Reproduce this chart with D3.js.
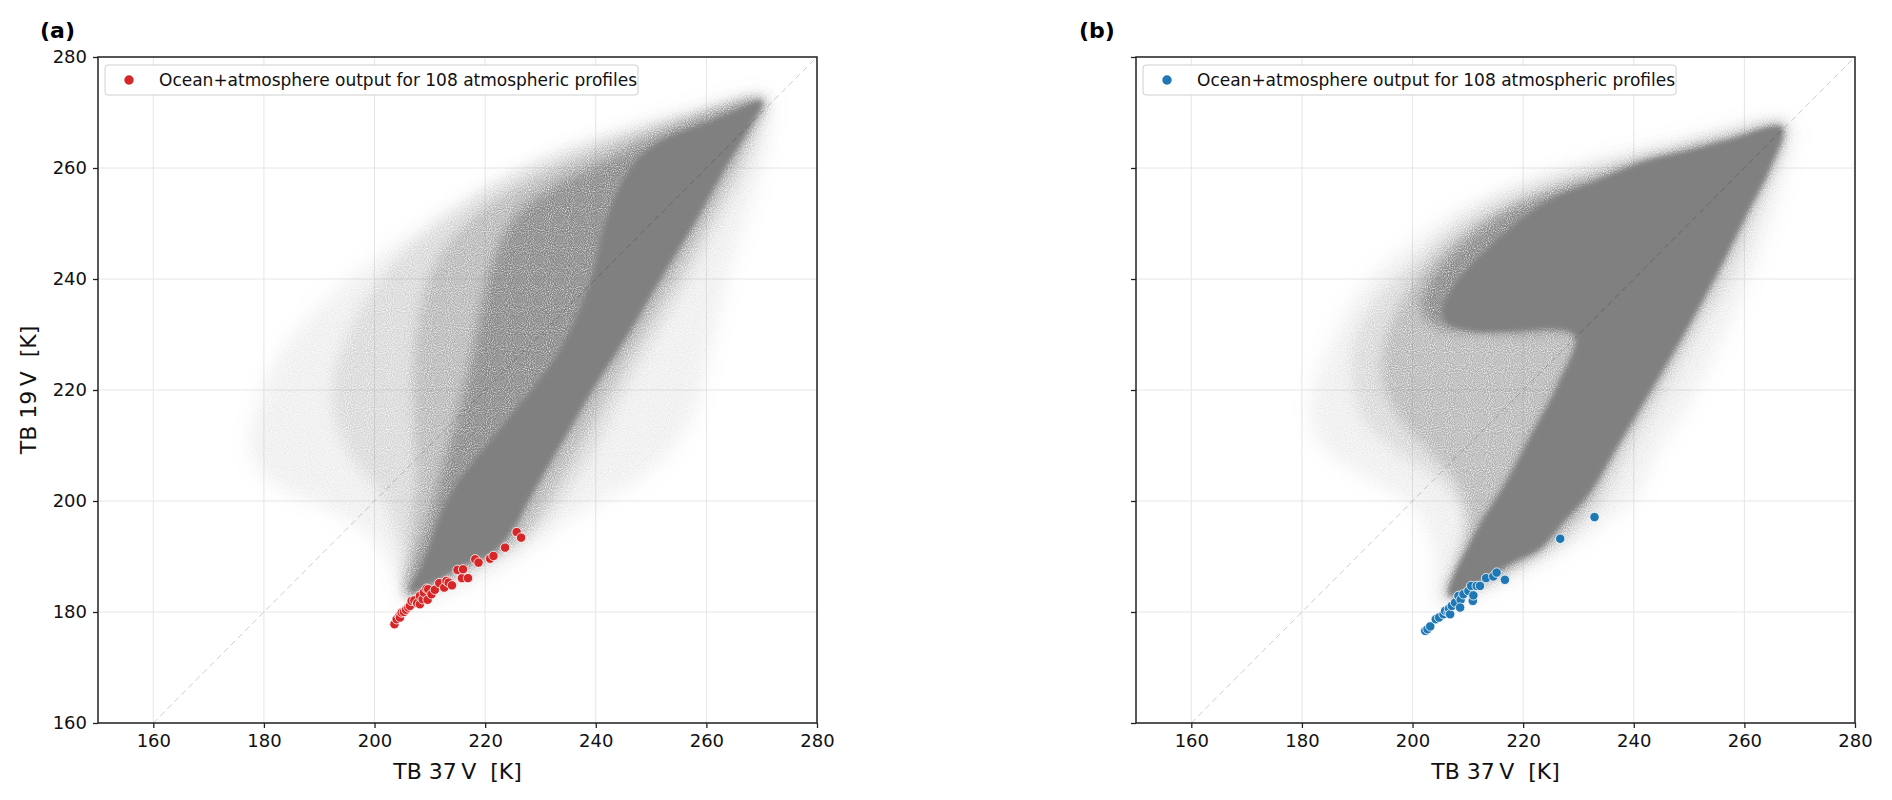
<!DOCTYPE html>
<html>
<head>
<meta charset="utf-8">
<script src="https://cdn.jsdelivr.net/npm/d3@7"></script>
<style>
  body { margin: 0; background: #fff; }
  text { font-family: "DejaVu Sans", sans-serif; }
</style>
</head>
<body>
<div id="chart"></div>
<script>
// ticks
var xTicks = [160, 180, 200, 220, 240, 260, 280];
var yTicks = [160, 180, 200, 220, 240, 260, 280];
var diag = [160, 280];
var legendText = "Ocean+atmosphere output for 108 atmospheric profiles";

// (a) model output, TB37V / TB19V
var redX = [203.6, 204.0, 204.5, 204.6, 204.9, 205.3, 205.7, 206.1, 206.4, 206.7, 207.2, 207.7, 208.2, 208.2, 208.7,
            208.9, 209.4, 209.6, 209.7, 210.3, 210.9, 211.7, 212.6, 213.0, 213.4, 214.0, 215.0, 215.8, 216.0, 216.9,
            218.2, 218.8, 220.9, 221.5, 223.6, 225.7, 226.5];
var redY = [177.8, 178.7, 179.3, 179.0, 179.9, 180.0, 180.4, 180.8, 181.1, 182.0, 182.1, 181.6, 182.9, 181.4, 182.3,
            183.5, 184.2, 182.2, 184.1, 183.2, 184.0, 185.2, 184.4, 185.6, 185.3, 184.8, 187.6, 186.1, 187.7, 186.1,
            189.5, 188.9, 189.6, 190.1, 191.6, 194.4, 193.4];

// (b) model output
var blueX = [202.3, 202.7, 203.2, 204.2, 204.8, 205.6, 205.9, 206.5, 206.6, 206.8, 207.1, 207.7, 208.3, 208.7, 208.6,
             209.2, 210.1, 210.6, 210.9, 211.0, 211.6, 212.2, 213.3, 214.6, 215.2, 216.7, 226.7, 232.9];
var blueY = [176.6, 176.9, 177.4, 178.7, 179.0, 179.6, 180.2, 179.9, 180.6, 179.6, 181.1, 181.7, 182.9, 182.2, 180.8,
             183.2, 183.8, 184.7, 182.0, 183.0, 184.7, 184.7, 186.1, 186.4, 187.1, 185.8, 193.2, 197.1];

var cloudAFaint = [[271.0,273.0],[258.0,271.0],[245.5,267.0],[233.0,262.0],[220.6,256.5],[208.1,249.0],[196.5,241.0],
  [188.0,233.0],[182.0,225.0],[178.5,216.3],[177.5,208.6],[181.6,203.2],[191.5,198.6],[199.8,193.2],[204.5,185.0],
  [206.0,181.5],[214.0,183.5],[222.0,187.5],[229.0,192.0],[235.0,196.5],[241.0,200.0],[248.0,204.0],[253.5,209.0],
  [257.5,215.0],[260.0,224.0],[263.7,239.4],[267.9,253.2],[271.4,266.3]];
var cloudALight = [[270.6,272.6],[261.4,270.5],[248.5,267.5],[235.6,263.9],[222.7,257.9],[213.7,251.9],[205.5,245.0],
  [199.5,238.0],[195.0,230.0],[192.5,222.0],[193.0,214.0],[196.5,207.0],[201.5,200.5],[204.8,191.0],[206.0,182.5],
  [212.0,184.6],[220.0,189.0],[226.5,192.5],[230.5,196.0],[233.7,200.0],[239.5,208.5],[245.3,220.0],[251.0,230.0],
  [256.9,240.0],[262.0,250.0],[266.6,258.5],[270.0,268.0]];
var cloudAMid = [[270.4,272.4],[250.0,267.0],[236.0,261.5],[224.0,255.5],[215.5,249.0],[210.0,241.0],[207.5,230.0],
  [207.0,218.0],[207.5,205.0],[206.5,192.0],[206.0,183.0],[212.0,185.0],[220.0,189.5],[226.0,193.0],[230.0,198.0],
  [236.0,208.0],[242.0,219.0],[248.5,230.0],[254.5,240.0],[260.0,250.0],[265.0,259.5],[269.0,268.0]];
var cloudADense = [[270.3,272.2],[255.0,267.5],[242.1,261.5],[232.4,256.7],[225.5,251.5],[221.4,243.4],[218.6,231.4],
  [216.0,219.3],[212.6,207.3],[209.8,196.4],[207.3,189.0],[205.9,183.0],[210.6,185.3],[216.0,188.3],[221.5,190.7],
  [225.0,194.9],[227.9,200.2],[233.7,210.3],[239.5,220.2],[245.9,230.2],[251.7,240.0],[257.5,249.5],[263.4,260.0],
  [268.0,267.6]];
var cloudACore = [[270.1,272.0],[261.4,268.7],[252.0,265.0],[247.0,261.0],[242.1,251.5],[238.8,239.0],[233.0,226.5],
  [223.0,213.5],[213.7,201.3],[208.8,188.9],[206.4,183.5],[210.6,185.3],[216.0,188.3],[221.5,190.7],[225.0,194.9],
  [227.9,200.2],[233.7,210.3],[239.5,220.2],[245.9,230.2],[251.7,240.0],[257.5,249.5],[263.4,260.0],[267.9,267.5]];

var cloudBFaint = [[267.6,268.6],[245.2,264.4],[224.5,259.0],[209.6,253.0],[199.6,246.3],[191.3,239.0],[186.4,231.0],
  [183.0,223.2],[181.4,215.5],[184.0,209.4],[192.0,204.0],[200.5,198.6],[204.0,190.2],[204.5,181.3],[214.5,184.0],
  [224.5,189.4],[230.5,193.0],[236.0,197.0],[240.5,201.0],[244.6,209.3],[249.5,216.5],[253.0,223.0],[257.0,231.0],
  [262.0,243.0],[266.5,256.0],[269.0,266.5]];
var cloudBLight = [[267.3,268.0],[245.0,263.5],[221.7,257.3],[209.6,251.3],[200.6,243.5],[193.4,236.3],[189.8,229.7],
  [189.0,222.5],[191.0,215.0],[197.0,209.0],[204.0,204.0],[209.0,198.0],[208.0,190.0],[205.8,182.6],[213.5,185.0],
  [220.0,188.5],[226.0,191.5],[230.0,195.0],[234.5,200.0],[240.0,210.0],[246.0,220.0],[251.5,230.0],[257.5,240.0],
  [262.5,252.0],[266.8,263.0]];
var cloudBMid = [[266.0,266.0],[240.0,260.5],[222.0,255.0],[210.0,249.0],[202.0,242.0],[197.5,235.0],[195.0,229.0],
  [194.5,222.0],[197.5,215.0],[203.0,209.0],[208.0,203.0],[210.0,195.0],[207.0,185.0],[206.5,183.0],[213.0,185.5],
  [220.0,189.0],[228.0,195.0],[232.0,200.0],[236.0,208.0],[242.0,218.0],[248.0,228.0],[254.0,240.0],[260.0,252.0],
  [264.0,260.0]];
var cloudBDense = [[267.0,267.6],[257.7,265.4],[250.6,263.6],[242.0,261.5],[233.7,258.5],[224.7,255.5],[215.7,251.5],
  [207.5,245.0],[202.5,238.5],[201.5,234.5],[204.0,231.5],[210.0,230.4],[218.7,230.2],[229.5,229.7],[226.5,221.3],
  [221.7,212.3],[216.9,203.3],[211.4,194.3],[206.6,182.9],[213.3,185.9],[218.1,188.9],[222.9,191.3],[227.7,196.7],
  [232.0,201.5],[236.7,209.3],[242.8,219.5],[248.8,229.7],[254.8,240.5],[260.8,252.5],[264.5,259.7]];
var cloudBCore = [[266.8,267.3],[257.7,265.2],[250.6,263.3],[242.0,261.2],[233.7,257.9],[224.7,254.3],[218.7,250.1],
  [213.3,245.3],[207.8,239.3],[205.4,235.1],[206.0,232.1],[210.8,230.6],[218.7,230.6],[226.5,230.9],[229.5,229.7],
  [226.5,221.3],[221.7,212.3],[216.9,203.3],[211.4,194.3],[206.6,182.9],[213.3,185.9],[218.1,188.9],[222.9,191.3],
  [227.7,196.7],[232.0,201.5],[236.7,209.3],[242.8,219.5],[248.8,229.7],[254.8,240.5],[260.8,252.5],[264.5,259.7]];

var svgW = 1892, svgH = 800;
var plotTop = 57, plotBottom = 723, plotW = 719;

var svg = d3.select("#chart").append("svg")
    .attr("width", svgW)
    .attr("height", svgH)
    .style("display", "block");

svg.append("rect").attr("width", svgW).attr("height", svgH).attr("fill", "#fff");

var defs = svg.append("defs");

// soft, grainy edge for the point clouds
function cloudFilter(id, blur, grain) {
    var f = defs.append("filter").attr("id", id)
        .attr("x", "-10%").attr("y", "-10%").attr("width", "120%").attr("height", "120%");
    f.append("feGaussianBlur").attr("in", "SourceGraphic").attr("stdDeviation", blur).attr("result", "b");
    if (grain) {
        f.append("feTurbulence").attr("type", "fractalNoise").attr("baseFrequency", 0.95)
            .attr("numOctaves", 1).attr("seed", 3).attr("result", "n");
        f.append("feColorMatrix").attr("in", "n").attr("type", "matrix")
            .attr("values", "0 0 0 0 0  0 0 0 0 0  0 0 0 0 0  0 0 0 1.8 -0.2").attr("result", "na");
        f.append("feComposite").attr("in", "b").attr("in2", "na").attr("operator", "in");
    }
}
cloudFilter("blurFaint", 9, true);
cloudFilter("blurLight", 7, true);
cloudFilter("blurMid", 6, true);
cloudFilter("blurDense", 6, true);
cloudFilter("blurCore", 2.8, false);

var panels = [
    { left: 98, tag: "(a)", tagX: 40, color: "#d62728", px: redX, py: redY, yLabels: true,
      clouds: [cloudAFaint, cloudALight, cloudAMid, cloudADense, cloudACore] },
    { left: 1136, tag: "(b)", tagX: 1079, color: "#1f77b4", px: blueX, py: blueY, yLabels: false,
      clouds: [cloudBFaint, cloudBLight, cloudBMid, cloudBDense, cloudBCore] }
];

var layerStyle = [
    { op: 0.15, filter: "url(#blurFaint)" },
    { op: 0.24, filter: "url(#blurLight)" },
    { op: 0.42, filter: "url(#blurMid)" },
    { op: 0.9, filter: "url(#blurDense)" },
    { op: 1.0, filter: "url(#blurCore)" }
];

panels.forEach(function(p, i) {
    var x = d3.scaleLinear().domain([150, 280]).range([p.left, p.left + plotW]);
    var y = d3.scaleLinear().domain([160, 280]).range([plotBottom, plotTop]);

    defs.append("clipPath").attr("id", "clip" + i)
      .append("rect")
        .attr("x", p.left).attr("y", plotTop)
        .attr("width", plotW).attr("height", plotBottom - plotTop);

    var g = svg.append("g");

    // grid
    g.selectAll(".gx").data(xTicks).enter().append("line")
        .attr("x1", function(d) { return x(d); }).attr("x2", function(d) { return x(d); })
        .attr("y1", plotTop).attr("y2", plotBottom)
        .attr("stroke", "#e6e6e6").attr("stroke-width", 1);
    g.selectAll(".gy").data(yTicks).enter().append("line")
        .attr("x1", p.left).attr("x2", p.left + plotW)
        .attr("y1", function(d) { return y(d); }).attr("y2", function(d) { return y(d); })
        .attr("stroke", "#e6e6e6").attr("stroke-width", 1);

    var inner = g.append("g").attr("clip-path", "url(#clip" + i + ")");

    var area = d3.line()
        .x(function(d) { return x(d[0]); })
        .y(function(d) { return y(d[1]); })
        .curve(d3.curveCatmullRomClosed.alpha(0.5));

    p.clouds.forEach(function(c, k) {
        inner.append("path")
            .attr("d", area(c))
            .attr("fill", "#808080")
            .attr("fill-opacity", layerStyle[k].op)
            .attr("filter", layerStyle[k].filter);
    });

    // 1:1 line
    inner.append("path")
        .attr("d", d3.line()(diag.map(function(d) { return [x(d), y(d)]; })))
        .attr("stroke", "#000").attr("stroke-opacity", 0.2)
        .attr("stroke-width", 1).attr("stroke-dasharray", "6,4")
        .attr("fill", "none");

    // model points
    inner.selectAll(".pt").data(p.px).enter().append("circle")
        .attr("cx", function(d) { return x(d); })
        .attr("cy", function(d, j) { return y(p.py[j]); })
        .attr("r", 4.7)
        .attr("fill", p.color)
        .attr("stroke", "#fff").attr("stroke-width", 0.8);

    // axes
    var ax = g.append("g").attr("transform", "translate(0," + plotBottom + ")")
        .call(d3.axisBottom(x).tickValues(xTicks).tickSize(5).tickPadding(6));
    var ay = g.append("g").attr("transform", "translate(" + p.left + ",0)")
        .call(d3.axisLeft(y).tickValues(yTicks).tickSize(5).tickPadding(6)
            .tickFormat(p.yLabels ? d3.format("d") : function() { return ""; }));
    [ax, ay].forEach(function(a) {
        a.select(".domain").remove();
        a.selectAll(".tick line").attr("stroke", "#222").attr("stroke-width", 1.3);
        a.selectAll(".tick text").attr("fill", "#111").style("font-size", "18px")
            .style("font-family", "DejaVu Sans");
    });

    g.append("rect")
        .attr("x", p.left).attr("y", plotTop)
        .attr("width", plotW).attr("height", plotBottom - plotTop)
        .attr("fill", "none").attr("stroke", "#222").attr("stroke-width", 1.5);

    // x label
    g.append("text")
        .attr("x", p.left + plotW / 2).attr("y", 779)
        .attr("text-anchor", "middle")
        .style("font-size", "22px").style("white-space", "pre")
        .attr("fill", "#111")
        .text("TB 37\u2009V  [K]");

    if (p.yLabels) {
        g.append("text")
            .attr("transform", "translate(36," + ((plotTop + plotBottom) / 2) + ") rotate(-90)")
            .attr("text-anchor", "middle")
            .style("font-size", "22px").style("white-space", "pre")
            .attr("fill", "#111")
            .text("TB 19\u2009V  [K]");
    }

    // panel tag
    g.append("text")
        .attr("x", p.tagX).attr("y", 38)
        .style("font-size", "22px").style("font-weight", "bold")
        .attr("fill", "#000")
        .text(p.tag);

    // legend
    var lg = g.append("g").attr("transform", "translate(" + (p.left + 7) + ",65)");
    lg.append("rect")
        .attr("width", 533).attr("height", 30).attr("rx", 3)
        .attr("fill", "#fff").attr("fill-opacity", 0.85)
        .attr("stroke", "#d0d0d0").attr("stroke-width", 1);
    lg.append("circle").attr("cx", 24).attr("cy", 15).attr("r", 4.7).attr("fill", p.color);
    lg.append("text")
        .attr("x", 54).attr("y", 21)
        .style("font-size", "17px")
        .attr("fill", "#111")
        .text(legendText);
});
</script>
</body>
</html>
